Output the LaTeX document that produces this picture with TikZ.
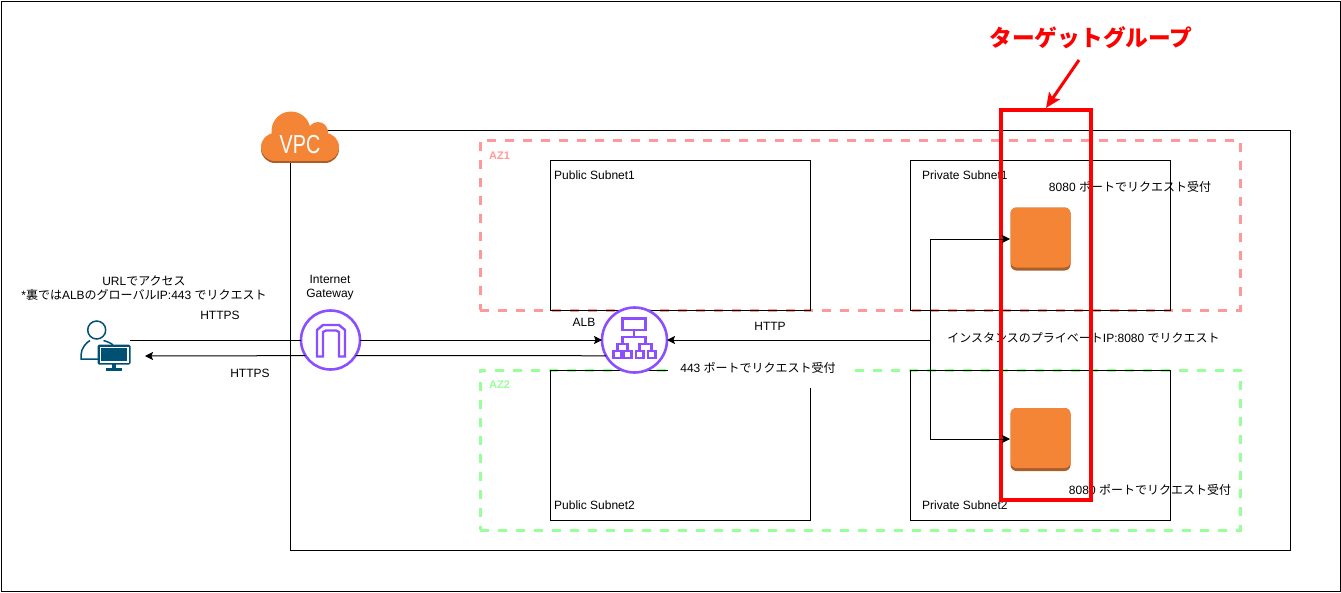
\documentclass[tikz,border=0pt]{standalone}
\usepackage{fontspec}
\setmainfont{Liberation Sans}
\newfontfamily\cjk{Noto Sans CJK JP}
\usetikzlibrary{arrows.meta}
\definecolor{awsorange}{HTML}{F58536}
\definecolor{awsdark}{HTML}{A85F2C}
\definecolor{awspurple}{HTML}{8C4FFF}
\definecolor{userteal}{HTML}{005073}
\definecolor{azred}{HTML}{FF9999}
\definecolor{azgreen}{HTML}{99FF99}
\tikzset{
    lbl/.style={font=\fontsize{12}{14}\selectfont,inner sep=0pt,align=center},
    box/.style={draw,line width=1pt,inner sep=0pt,outer sep=0pt},
    subnet/.style={box,minimum width=260pt,minimum height=150pt},
    azbox/.style={draw=#1,line width=3pt,dash pattern=on 9pt off 9pt,inner sep=0pt,minimum width=760pt},
    azlbl/.style={font=\fontsize{11}{13}\selectfont\bfseries,text=#1,anchor=west,inner sep=0pt},
    ring/.style={circle,draw=awspurple,fill=white,line width=2.6pt,inner sep=0pt,outer sep=0pt},
    inst/.style={rounded corners=6pt,minimum width=60pt,inner sep=0pt,outer sep=0pt},
    tip/.style={-{Stealth[length=8pt,width=8pt,inset=1.5pt]},line width=1pt}
}
\begin{document}
\begin{tikzpicture}[x=1pt,y=-1pt]
    \useasboundingbox (0,0) rectangle (1341,592);
    \node[box,minimum width=1339pt,minimum height=590pt] (frame) at (670.5,296) {};
    \node[box,minimum width=1000pt,minimum height=420pt] (vpc) at (790,340) {};
    % AZ
    \node[azbox=azred,minimum height=170pt] (az1) at (860,225) {};
    \node[azbox=azgreen,minimum height=160pt] (az2) at (860,450) {};
    \node[azlbl=azred] (az1lbl) at (489,156) {AZ1};
    \node[azlbl=azgreen] (az2lbl) at (489,385) {AZ2};
    % subnets
    \node[subnet] (pub1) at (680,235) {};
    \node[subnet] (priv1) at (1040,235) {};
    \node[subnet] (pub2) at (680,445) {};
    \node[subnet] (priv2) at (1040,445) {};
    \node[lbl,anchor=west] (pub1lbl) at (554,175.5) {Public Subnet1};
    \node[lbl,anchor=west] (priv1lbl) at (922,175.5) {Private Subnet1};
    \node[lbl,anchor=west] (pub2lbl) at (554,505.5) {Public Subnet2};
    \node[lbl,anchor=west] (priv2lbl) at (922,505.5) {Private Subnet2};
    % VPC cloud
    \fill[awsdark] (275,149) circle (14pt);
    \fill[awsdark] (325,149) circle (14pt);
    \fill[awsdark] (275,140) rectangle (325,163);
    \fill[awsorange] (275,147) circle (14pt);
    \fill[awsorange] (325,147) circle (14pt);
    \fill[awsorange] (291,131) circle (19.5pt);
    \fill[awsorange] (318,132) circle (10pt);
    \fill[awsorange] (275,135) rectangle (325,161);
    \node[font=\fontsize{26}{26}\selectfont,text=white,xscale=.76,inner sep=0pt] (vpclbl) at (300,145) {VPC};
    % 443 label sits on a white patch
    \node[lbl,fill=white,minimum width=180pt,minimum height=40pt] (alblistenbg) at (758,368) {};
    \node[lbl] (alblisten) at (758,368) {443 {\cjk ポートでリクエスト受付}};
    % icons
    \node[ring,minimum size=59pt] (igw) at (330.5,340) {};
    \draw[awspurple,line width=2.4pt] (317,356.5) -- (317,330) -- (323,325) -- (339,325) -- (345,330) -- (345,356.5) -- (339,356.5) -- (339,332) -- (336,330.5) -- (326,330.5) -- (323,332) -- (323,356.5) -- cycle;
    \node[ring,minimum size=65pt] (alb) at (634.5,340) {};
    \draw[awspurple,line width=2.6pt] (622.5,318.5) rectangle (645.5,330)
        (634,330) -- (634,337) (622.5,344) -- (622.5,337) -- (645.5,337) -- (645.5,344)
        (617.5,351) -- (617.5,344) -- (627.5,344) -- (627.5,351)
        (639.5,351) -- (639.5,344) -- (651.5,344) -- (651.5,351)
        (613.5,351) rectangle (621.5,358) (624,351) rectangle (631.5,358)
        (636,351) rectangle (643.5,358) (648,351) rectangle (655.5,358);
    \node[circle,draw=userteal,line width=1.5pt,minimum size=18pt,inner sep=0pt] (userhead) at (96.7,330) {};
    \draw[userteal,line width=1.5pt] (98,359) -- (81,359) -- (81,355) .. controls (81,348) and (87,342) .. (90,340.5)
        (103.5,340.5) .. controls (107,341.5) and (111,343) .. (113,345);
    \node[fill=userteal,rounded corners=1.5pt,minimum width=33pt,minimum height=20pt,inner sep=0pt] (usermon) at (114,354.5) {};
    \node[fill=white,minimum width=29pt,minimum height=16pt,inner sep=0pt] (usermonrim) at (114,354.5) {};
    \node[fill=userteal,minimum width=26pt,minimum height=13pt,inner sep=0pt] (usermonin) at (114,354.5) {};
    \fill[userteal] (112,364) rectangle (116,368);
    \fill[userteal] (106,368) rectangle (122,370.5);
    % instances
    \node[inst,fill=awsdark,minimum height=63pt] (inst1base) at (1040.5,239) {};
    \node[inst,fill=awsorange,minimum height=60pt,anchor=north] (inst1) at (1040.5,207.5) {};
    \node[inst,fill=awsdark,minimum height=63pt] (inst2base) at (1040.5,439.5) {};
    \node[inst,fill=awsorange,minimum height=60pt,anchor=north] (inst2) at (1040.5,408) {};
    \coordinate (userout) at (130,340);
    \coordinate (userin) at (145,356);
    \coordinate (split) at (930,340);
    \coordinate (inst1in) at (1010,239);
    \coordinate (inst2in) at (1010,439);
    \draw[line width=1pt] (userout)--(igw);
    \draw[tip] (igw)--(alb);
    \draw[line width=1pt] (alb.209)--(igw.328);
    \draw[tip] (igw.212)--(userin);
    \draw[tip] (split)--(alb);
    % texts
    \node[lbl] (userlbl) at (144,288) {URL{\cjk でアクセス}\\*{\cjk 裏では}ALB{\cjk のグローバル}IP:443 {\cjk でリクエスト}};
    \node[lbl] (httpsout) at (220,315) {HTTPS};
    \node[lbl] (httpsin) at (250,373) {HTTPS};
    \node[lbl] (igwlbl) at (330,287.5) {Internet\\Gateway};
    \node[lbl] (alblbl) at (584,322) {ALB};
    \node[lbl] (httplbl) at (770,326) {HTTP};
    \node[lbl] (reqlbl) at (1083.5,338) {{\cjk インスタンスのプライベート}IP:8080 {\cjk でリクエスト}};
    \node[lbl] (listen1) at (1130,187) {8080 {\cjk ポートでリクエスト受付}};
    \node[lbl] (listen2) at (1150,490) {8080 {\cjk ポートでリクエスト受付}};
    % target group
    \node[draw=red,line width=4pt,minimum width=90pt,minimum height=390pt,inner sep=0pt,outer sep=0pt] (tg) at (1045.5,305) {};
    \draw[tip] (split)|-(inst1in);
    \draw[tip] (split)|-(inst2in);
    \node[font=\fontsize{22.7}{24}\selectfont\cjk\bfseries,text=red,inner sep=0pt] (tglbl) at (1091,38) {ターゲットグループ};
    \coordinate (tgfrom) at (1079,60);
    \coordinate (tgto) at (1046,108);
    \draw[-{Stealth[length=15pt,width=13pt,inset=3pt]},red,line width=3pt] (tgfrom)--(tgto);
\end{tikzpicture}
\end{document}
